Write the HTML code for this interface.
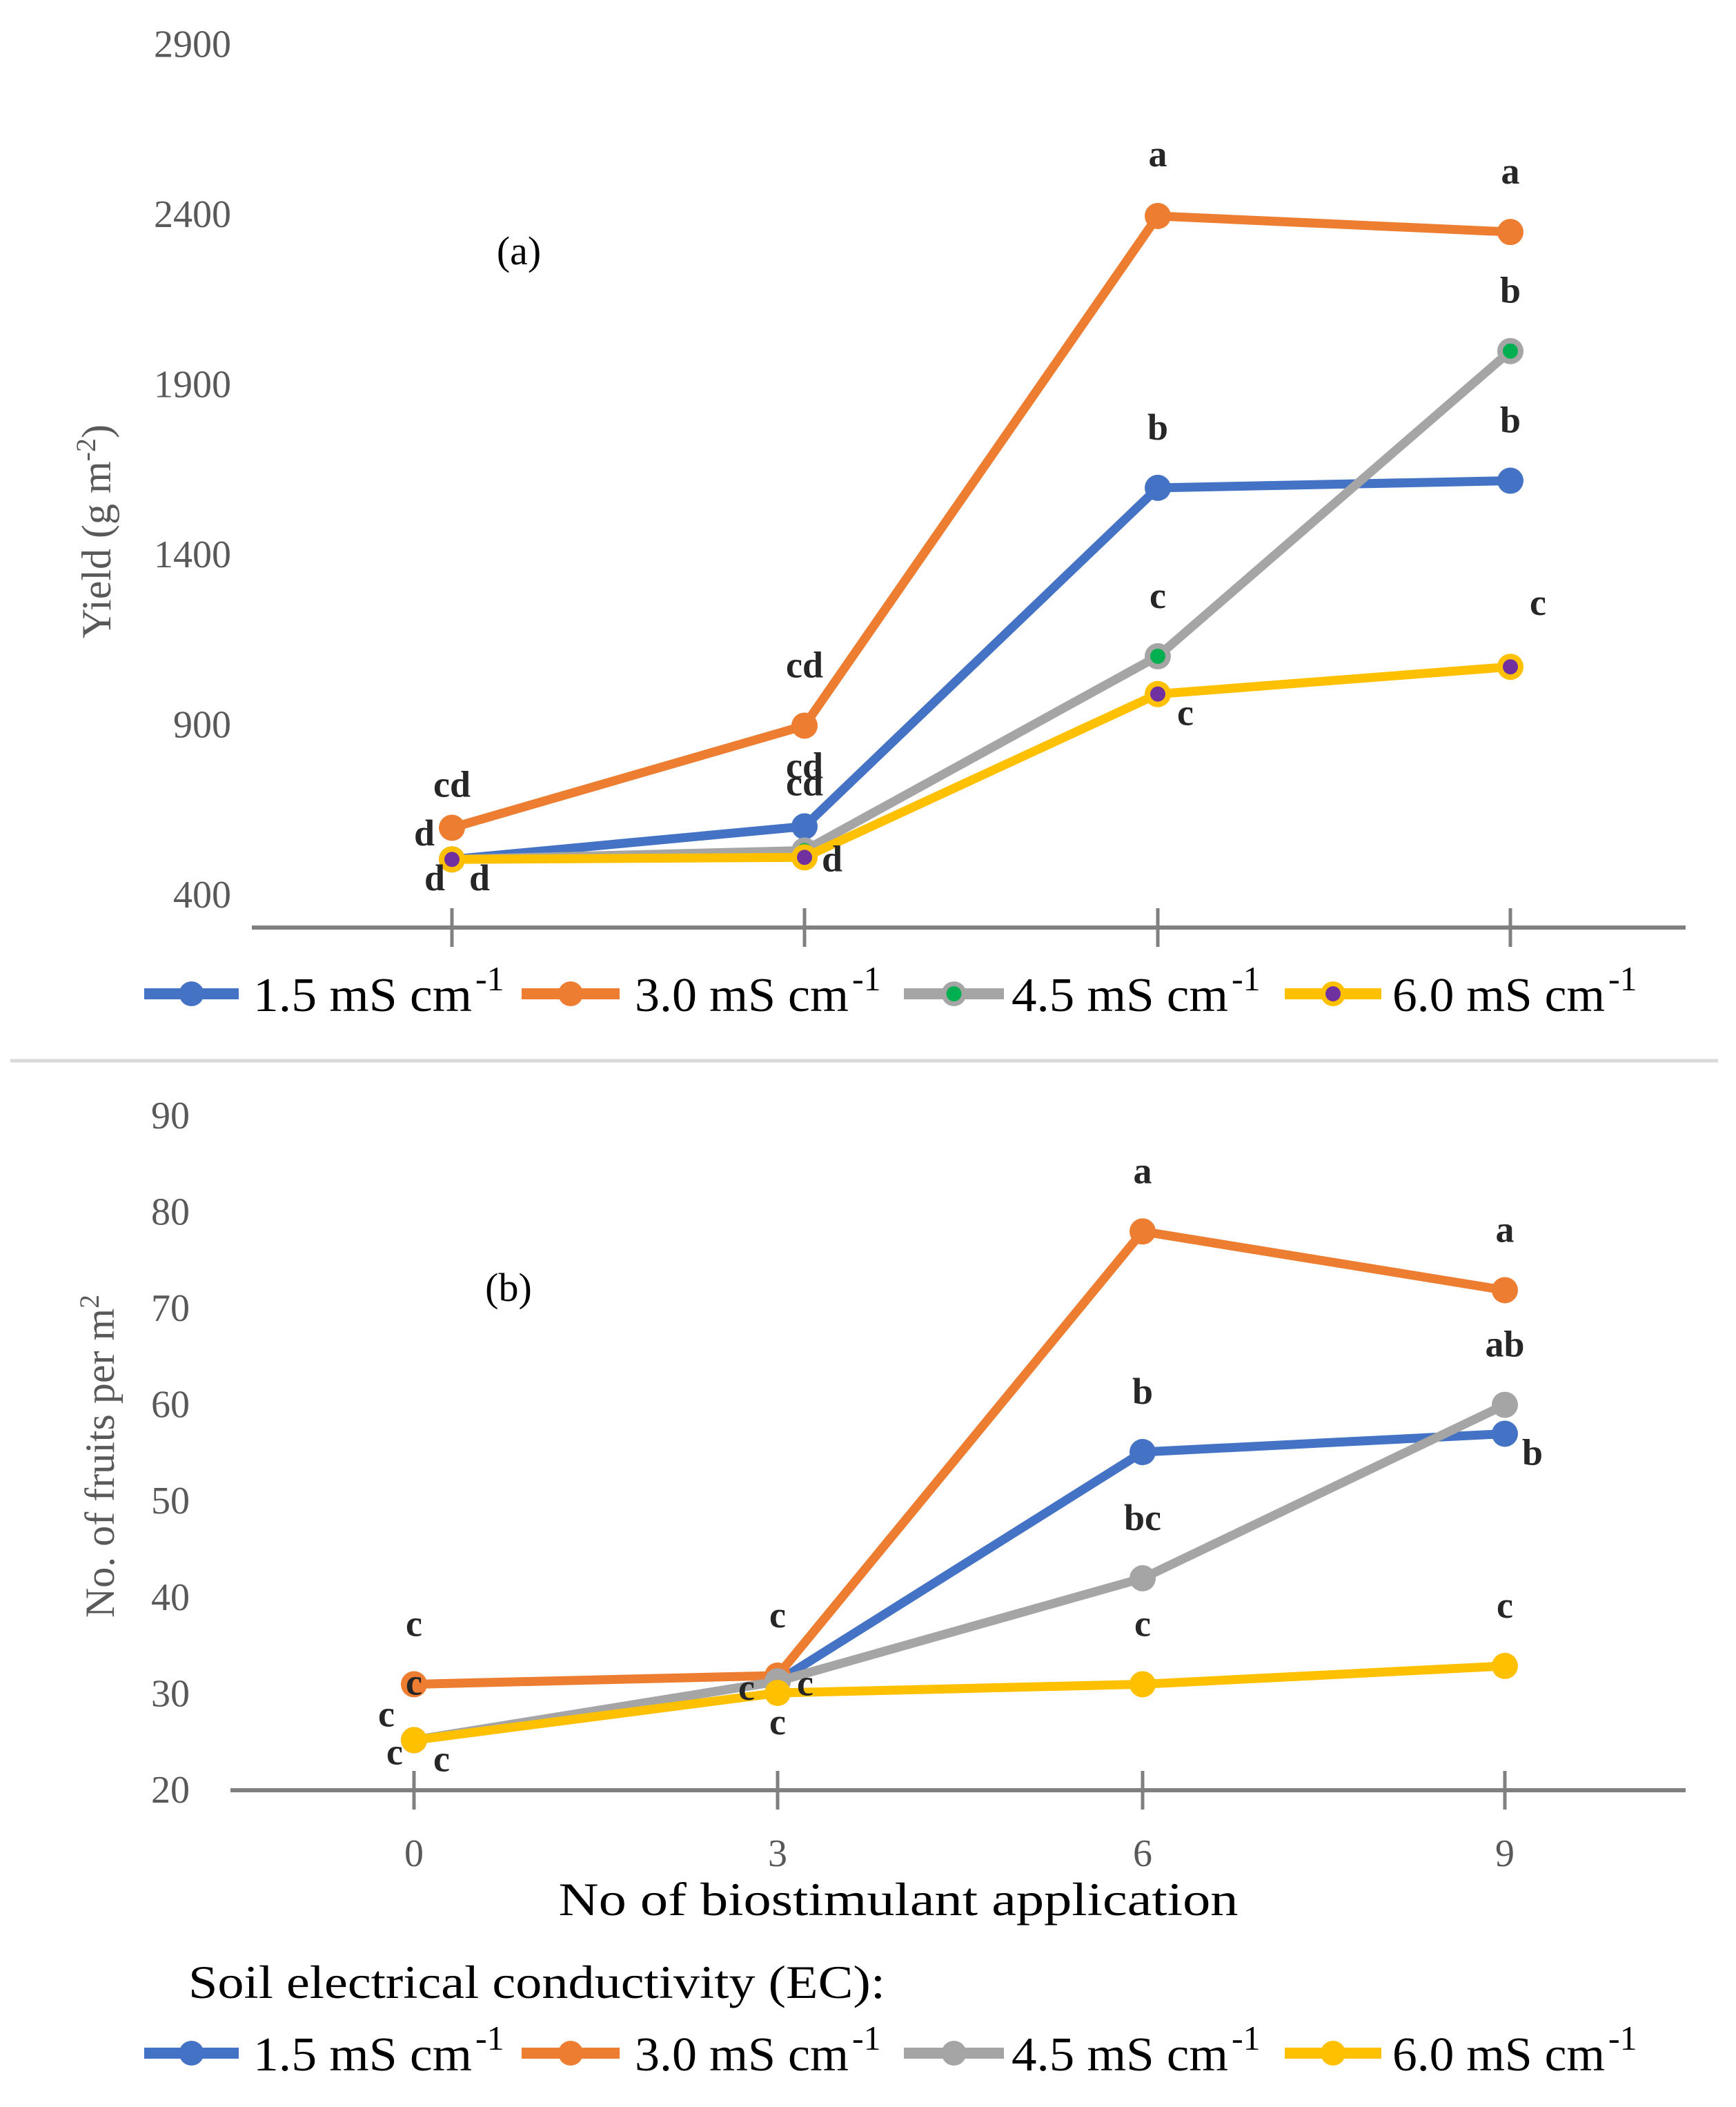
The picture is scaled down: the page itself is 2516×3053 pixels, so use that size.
<!DOCTYPE html>
<html><head><meta charset="utf-8"><style>
html,body{margin:0;padding:0;background:#fff;width:2516px;height:3053px;overflow:hidden}
svg text{font-family:"Liberation Serif",serif}
</style></head><body>
<svg id="chart" width="2516" height="3053" viewBox="0 0 2516 3053" xmlns="http://www.w3.org/2000/svg">
<rect width="2516" height="3053" fill="#fff"/>
<g id="pa"></g>
<line x1="15" y1="1537" x2="2490" y2="1537" stroke="#d9d9d9" stroke-width="5"/>
<g id="pb"></g>
</svg>
<script>
const categories=[0,3,6,9];
const seriesNames=["1.5 mS cm","3.0 mS cm","4.5 mS cm","6.0 mS cm"];
const yieldBlue=[505,602,1597,1618];
const yieldOrange=[598,898,2396,2349];
const yieldGray=[505,531,1102,1999];
const yieldYellow=[505,511,991,1071];
const fruitBlue=[25.2,31.3,55.1,57.0];
const fruitOrange=[31.0,31.9,78.0,71.9];
const fruitGray=[25.2,31.3,42.0,60.0];
const fruitYellow=[25.2,30.1,31.0,32.9];
const yieldTicks=[400,900,1400,1900,2400,2900];
const fruitTicks=[20,30,40,50,60,70,80,90];
const yieldLetters=[["a",2,2400,"above"],["a",3,2349,"above"],["b",3,1999,"above"],["b",2,1597,"above"],["b",3,1618,"above"],["c",2,1102,"above"],["c",3,1071,"above2"],["cd",1,898,"above"],["cd",1,602,"above"],["cd",1,602,"above3"],["cd",0,598,"above3"],["d",0,505,"left"],["d",0,505,"belowl"],["d",0,505,"belowr"],["d",1,511,"right"],["c",2,991,"belowr"]];
const fruitLetters=[["a",2,78,"above"],["a",3,71.9,"above"],["ab",3,60,"above"],["b",2,55.1,"above"],["b",3,57,"belowr"],["bc",2,42,"above"],["c",2,31,"above"],["c",3,32.9,"above"],["c",0,31,"above"],["c",1,31.9,"above"],["c",0,31,"on"],["c",1,31.3,"right"],["c",1,30.1,"leftc"],["c",1,30.1,"below"],["c",0,25.2,"left"],["c",0,25.2,"leftlow"],["c",0,25.2,"belowr"]];
const colors=["#4472C4","#ED7D31","#A5A5A5","#FFC000"];
const NS="http://www.w3.org/2000/svg";
function mk(parent,tag,attrs,txt){const e=document.createElementNS(NS,tag);for(const k in attrs)e.setAttribute(k,attrs[k]);if(txt!==undefined)e.textContent=txt;parent.appendChild(e);return e;}
const offs={above:[0,-70],above2:[40,-75],above3:[0,-45],left:[-40,-20],belowl:[-25,45],belowr:[40,45],right:[40,20],on:[0,15],leftc:[-45,10],leftlow:[-28,35],below:[0,60]};
function panel(g,o){
  const X=i=>o.xpos[i];
  const Y=v=>o.y0-(v-o.vmin)*o.k;
  o.ticks.forEach(t=>{const e=mk(g,"text",{x:o.tickX,y:Y(t)+18,"text-anchor":"end","font-size":56,fill:"#595959"},String(t));
    
    });
  const ax=mk(g,"line",{x1:o.axX1,x2:o.axX2,y1:o.axisY,y2:o.axisY,stroke:"#808080","stroke-width":6});
  
  
  categories.forEach((c,i)=>{const t=mk(g,"line",{x1:X(i),x2:X(i),y1:o.axisY-28,y2:o.axisY+28,stroke:"#808080","stroke-width":5});
    
    
    if(o.showX){const l=mk(g,"text",{x:X(i),y:o.axisY+110,"text-anchor":"middle","font-size":56,fill:"#595959"},String(c));
      
      }});
  o.series.forEach((s,si)=>{
    const pts=s.map((v,i)=>X(i)+","+Y(v)).join(" ");
    const pl=mk(g,"polyline",{points:pts,fill:"none",stroke:colors[si],"stroke-width":13,"stroke-linejoin":"round"});
    
    
    s.forEach((v,i)=>{const c=mk(g,"circle",{cx:X(i),cy:Y(v),r:19,fill:colors[si]});
      
      
      if(o.inner&&o.inner[si]){const d=mk(g,"circle",{cx:X(i),cy:Y(v),r:11,fill:o.inner[si]});
        
        }});
  });
  o.letters.forEach(L=>{const of=offs[L[3]];const e=mk(g,"text",{x:X(L[1])+of[0],y:Y(L[2])+of[1],"text-anchor":"middle","font-size":54,"font-weight":"bold",fill:"#262626"},L[0]);
    
    });
  const pl=mk(g,"text",{x:o.plX,y:o.plY,"text-anchor":"middle","font-size":58,fill:"#000"},o.pl);
  
  
  const yt=mk(g,"text",{x:0,y:0,transform:`translate(${o.ytX},${o.ytY}) rotate(-90)`,"text-anchor":"middle","font-size":60,fill:"#595959"});
  yt.innerHTML=o.ytitle;
  
  
  const lx=[[209,346,367,744],[756,898,920,1290],[1310,1455,1466,1840],[1862,2002,2018,2386]];
  lx.forEach((p,si)=>{
    const ln=mk(g,"line",{x1:p[0],x2:p[1],y1:o.legY,y2:o.legY,stroke:colors[si],"stroke-width":16});
    
    
    const mc=mk(g,"circle",{cx:(p[0]+p[1])/2,cy:o.legY,r:18,fill:colors[si]});
    
    
    if(o.inner&&o.inner[si]){const d=mk(g,"circle",{cx:(p[0]+p[1])/2,cy:o.legY,r:11,fill:o.inner[si]});
      
      }
    const t=mk(g,"text",{x:p[2],y:o.legY+25,"font-size":70,fill:"#000",textLength:p[3]-p[2]-60,lengthAdjust:"spacingAndGlyphs"},seriesNames[si]);
    
    
    const sp=mk(g,"text",{x:p[3]-55,y:o.legY-5,"font-size":50,fill:"#000"},"-1");
    
    
  });
}
panel(document.getElementById("pa"),{xpos:[655,1166,1678,2189],y0:1297,vmin:400,k:0.493,ticks:yieldTicks,tickX:335,axisY:1344,axX1:365,axX2:2443,showX:false,
  series:[yieldBlue,yieldOrange,yieldGray,yieldYellow],inner:[null,null,"#00B050","#7030A0"],letters:yieldLetters,pl:"(a)",plX:752,plY:383,
  ytitle:'Yield (g m<tspan dy="-22" font-size="40">-2</tspan><tspan dy="22">)</tspan>',ytX:160,ytY:770,legY:1440});
panel(document.getElementById("pb"),{xpos:[600,1127,1656,2181],y0:2594,vmin:20,k:13.96,ticks:fruitTicks,tickX:275,axisY:2594,axX1:334,axX2:2443,showX:true,
  series:[fruitBlue,fruitOrange,fruitGray,fruitYellow],inner:null,letters:fruitLetters,pl:"(b)",plX:737,plY:1885,
  ytitle:'No. of fruits per m<tspan dy="-22" font-size="40">2</tspan>',ytX:165,ytY:2110,legY:2975});
const svg=document.getElementById("chart");
const xt=mk(svg,"text",{x:1302,y:2775,"text-anchor":"middle","font-size":68,fill:"#000",textLength:985,lengthAdjust:"spacingAndGlyphs"},"No of biostimulant application");


const lt=mk(svg,"text",{x:273,y:2895,"font-size":68,fill:"#000",textLength:1010,lengthAdjust:"spacingAndGlyphs"},"Soil electrical conductivity (EC):");


</script>
</body></html>
